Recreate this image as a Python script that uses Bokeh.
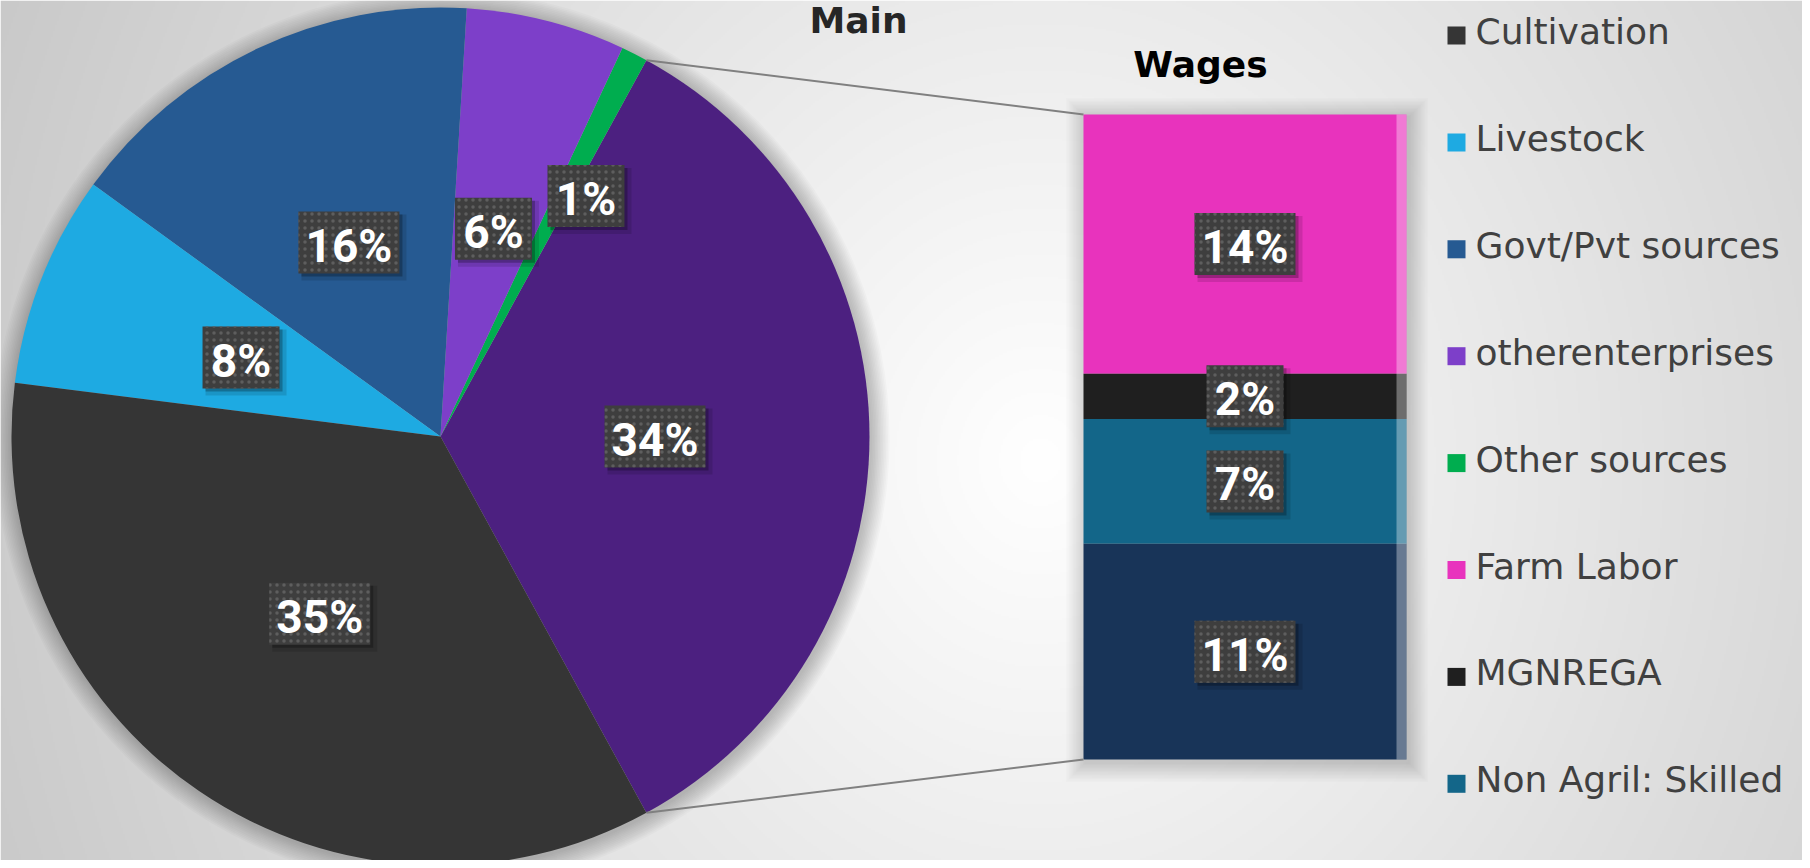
import math
import numpy as np
from bokeh.plotting import figure
from bokeh.models import Range1d
from bokeh.core.properties import value
from bokeh.embed import file_html
from bokeh.resources import INLINE

# ---------------- data ----------------
main_categories = ["Cultivation", "Livestock", "Govt/Pvt sources", "otherenterprises", "Other sources"]
main_values = [35, 8, 16, 6, 1]
main_colors = ["#353535", "#1EAAE2", "#265A92", "#7D3FC9", "#00AD4F"]

wage_categories = ["Farm Labor", "MGNREGA", "Non Agril: Skilled", "Non Agril: Unskilled"]
wage_values = [13.7, 2.4, 6.6, 11.4]
wage_colors = ["#E833BD", "#1F1F1F", "#136689", "#183458"]
wage_slice_color = "#4C2080"

pie_title = "Main"
bar_title = "Wages"
legend_labels = main_categories + wage_categories[:3]
legend_colors = main_colors + wage_colors[:3]

# ---------------- layout ----------------
W, H = 1802, 860


def X(rx):
    return rx


def Y(ry):
    return H - ry


p = figure(width=W, height=H, x_range=Range1d(0, W), y_range=Range1d(0, H),
           output_backend="svg", toolbar_location=None, min_border=0,
           x_axis_location=None, y_axis_location=None)
p.grid.visible = False
p.outline_line_color = None
p.border_fill_color = "white"

# background gradient
nx, ny = 901, 430
xs = (np.arange(nx) + 0.5) * W / nx
ys = H - (np.arange(ny) + 0.5) * H / ny
RX, RY = np.meshgrid(xs, ys)
d = np.sqrt(((RX - 1040) / 1040.0) ** 2 + ((RY - 460) / 1150.0) ** 2)
lum = np.clip(255 - 50 * d, 190, 255).astype(np.uint8)
img = np.empty((ny, nx), dtype=np.uint32)
view = img.view(dtype=np.uint8).reshape((ny, nx, 4))
view[:, :, 0] = lum
view[:, :, 1] = lum
view[:, :, 2] = lum
view[:, :, 3] = 255
p.image_rgba(image=[img], x=0, y=0, dw=W, dh=H)

total = sum(main_values) + sum(wage_values)
wage_total = sum(wage_values)

cx, cy, R = X(440), Y(436), 429

# pie soft shadow
for k in range(12, 0, -1):
    p.circle(x=[cx + 1], y=[cy - 2], radius=R + k * 1.6, fill_color="black",
             fill_alpha=0.018, line_color=None)

# pie wedges
wage_ang = wage_total / total * 2 * math.pi
starts, ends, cols, labs, mids = [], [], [], [], []
starts.append(-wage_ang / 2)
ends.append(wage_ang / 2)
cols.append(wage_slice_color)
labs.append(f"{round(wage_total / total * 100)}%")
mids.append(0.0)
a = wage_ang / 2
for cat, v, c in reversed(list(zip(main_categories, main_values, main_colors))):
    e = a + v / total * 2 * math.pi
    starts.append(a)
    ends.append(e)
    cols.append(c)
    labs.append(f"{round(v / total * 100)}%")
    mids.append((a + e) / 2)
    a = e
p.wedge(x=cx, y=cy, radius=R, start_angle=starts, end_angle=ends,
        fill_color=cols, line_color=None)

# bar geometry
bar_left, bar_right = X(1083), X(1406)
bar_top, bar_h = Y(114), 645
scale = bar_h / wage_total

# bar shadow
for k in range(14, 0, -1):
    g = k * 1.4
    p.quad(left=[bar_left - g + 2], right=[bar_right + g + 2],
           top=[bar_top + g - 3], bottom=[bar_top - bar_h - g - 3],
           fill_color="black", fill_alpha=0.012, line_color=None)

tops, bots, bar_labels, bar_mid = [], [], [], []
t = bar_top
for v in wage_values:
    b = t - v * scale
    tops.append(t)
    bots.append(b)
    bar_labels.append(f"{round(v / total * 100)}%")
    bar_mid.append((t + b) / 2)
    t = b
p.quad(left=bar_left, right=bar_right, top=tops, bottom=bots,
       fill_color=wage_colors, line_color=None)
p.quad(left=[X(1396)], right=[bar_right], top=[bar_top], bottom=[bar_top - bar_h],
       fill_color="white", fill_alpha=0.35, line_color=None)

# connector lines
for sgn, by in ((1, bar_top), (-1, bar_top - bar_h)):
    ang = sgn * wage_ang / 2
    p.line(x=[cx + R * math.cos(ang), bar_left], y=[cy + R * math.sin(ang), by],
           line_color="#808080", line_width=2)

# data labels
lx, ly, ltxt = [], [], []
overrides = {len(labs) - 5: (0.655, -4.3)}  # small "Other sources" slice label moved out
for i, (m, txt) in enumerate(zip(mids, labs)):
    rf, da = overrides.get(i, (0.5, 0.0))
    ang = m + math.radians(da)
    lx.append(cx + rf * R * math.cos(ang))
    ly.append(cy + rf * R * math.sin(ang))
    ltxt.append(txt)
bcx = (bar_left + bar_right) / 2
for m, txt in zip(bar_mid, bar_labels):
    lx.append(bcx)
    ly.append(m)
    ltxt.append(txt)

bw = [24 * len(s) + 29 for s in ltxt]
bh = 62
p.rect(x=[x + 5 for x in lx], y=[y - 5 for y in ly], width=[w + 4 for w in bw], height=bh + 4,
       fill_color="black", fill_alpha=0.12, line_color=None)
p.rect(x=[x + 3 for x in lx], y=[y - 3 for y in ly], width=bw, height=bh,
       fill_color="black", fill_alpha=0.25, line_color=None)
p.rect(x=lx, y=ly, width=bw, height=bh, fill_color="#3E3E3E", line_color=None,
       hatch_pattern="dot", hatch_color="#5E5E5E", hatch_scale=7, hatch_weight=1.5)
p.text(x=lx, y=[y - 3 for y in ly], text=ltxt, text_align="center",
       text_baseline="middle", text_color="white",
       text_font=value("Roboto"), text_font_style="bold", text_font_size="46px")

# titles
p.text(x=[X(1200)], y=[Y(64)], text=[bar_title], text_align="center",
       text_baseline="middle", text_color="black",
       text_font=value("DejaVu Sans"), text_font_style="bold", text_font_size="36px")
p.text(x=[X(858)], y=[Y(20)], text=[pie_title], text_align="center",
       text_baseline="middle", text_color="#262626",
       text_font=value("DejaVu Sans"), text_font_style="bold", text_font_size="36px")

# legend
base0, step = 45, 106.9
lgx, lgy, sqx, sqy = [], [], [], []
for i, lab in enumerate(legend_labels):
    bl = base0 + step * i
    lgy.append(Y(bl - 14))
    lgx.append(X(1475))
    sqx.append(X(1456))
    sqy.append(Y(bl - 10))
p.rect(x=sqx, y=sqy, width=18, height=18, fill_color=legend_colors, line_color=None)
p.text(x=lgx, y=lgy, text=legend_labels, text_align="left", text_baseline="middle",
       text_color="#404040", text_font=value("DejaVu Sans"), text_font_size="36px")

open("out.html", "w").write(file_html(p, INLINE))
